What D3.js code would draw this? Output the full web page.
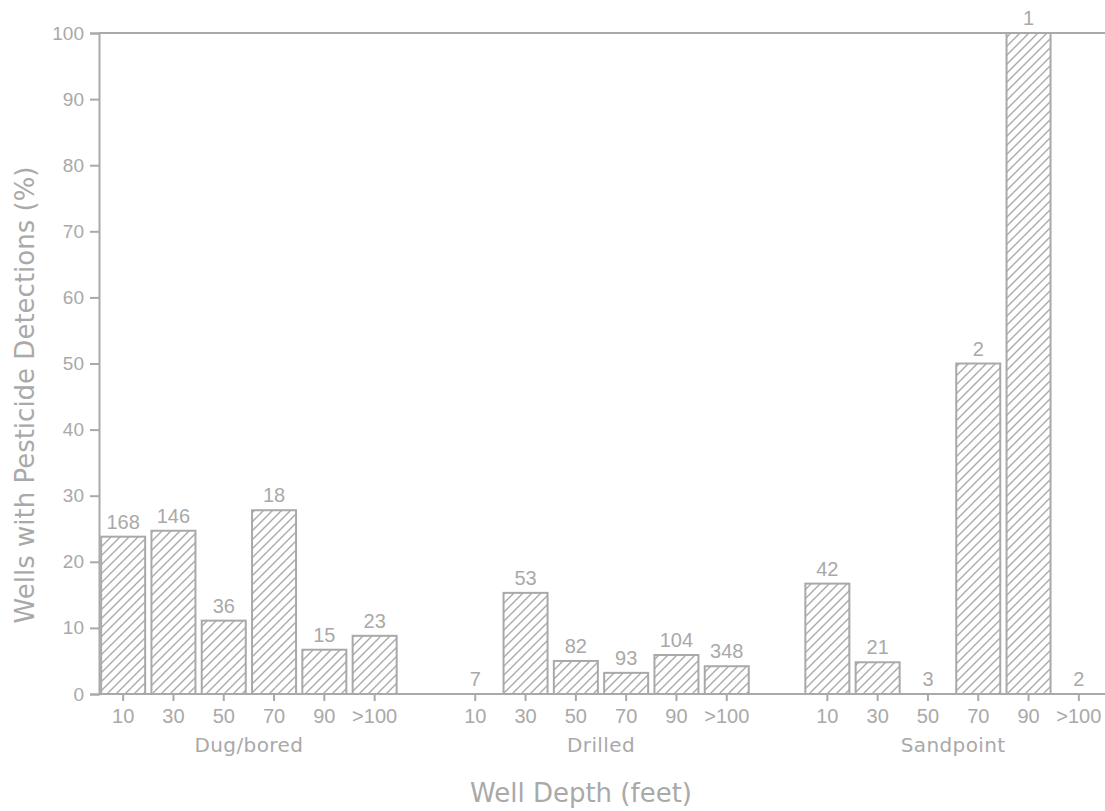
<!DOCTYPE html>
<html>
<head>
<meta charset="utf-8">
<script src="https://cdn.jsdelivr.net/npm/d3@7"></script>
<style>
  html, body { margin: 0; padding: 0; background: #fff; }
  svg { display: block; }
  text { font-family: "DejaVu Sans", sans-serif; fill: #a9a9a9; }
  .num { font-family: "Liberation Sans", Arial, sans-serif; }
</style>
</head>
<body>
<svg id="chart" width="1105" height="811"></svg>
<script>
// Well types and depth classes (feet)
const wellTypes = ["Dug/bored", "Drilled", "Sandpoint"];
const depthLabels = ["10", "30", "50", "70", "90", ">100"];

// Percent of wells with pesticide detections, by depth class
const dugBoredPct = [23.8, 24.7, 11.1, 27.8, 6.7, 8.8];
const drilledPct = [0, 15.3, 5.0, 3.2, 5.9, 4.2];
const sandpointPct = [16.7, 4.8, 0, 50, 100, 0];

// Number of wells sampled in each depth class
const dugBoredCount = [168, 146, 36, 18, 15, 23];
const drilledCount = [7, 53, 82, 93, 104, 348];
const sandpointCount = [42, 21, 3, 2, 1, 2];

const yTicks = [0, 10, 20, 30, 40, 50, 60, 70, 80, 90, 100];

const pctByType = [dugBoredPct, drilledPct, sandpointPct];
const countByType = [dugBoredCount, drilledCount, sandpointCount];

// One slot per bar, with an empty slot between well types
const slotsPerType = depthLabels.length + 1;
const nSlots = wellTypes.length * slotsPerType - 1;
const bars = [];
wellTypes.forEach((t, g) => {
  depthLabels.forEach((d, i) => {
    bars.push({ type: t, depth: d, slot: g * slotsPerType + i,
                pct: pctByType[g][i], n: countByType[g][i] });
  });
});

const color = "#a9a9a9";
const svg = d3.select("#chart");

const x = d3.scaleBand()
  .domain(d3.range(nSlots))
  .range([98, 1104])
  .paddingInner(0.125)
  .paddingOuter(0.0625);

const y = d3.scaleLinear().domain([0, 100]).range([694, 33]);

// Diagonal hatch fill
const defs = svg.append("defs");
const pat = defs.append("pattern")
  .attr("id", "hatch")
  .attr("patternUnits", "userSpaceOnUse")
  .attr("width", 9).attr("height", 9);
pat.append("path")
  .attr("d", "M-1,10 L10,-1 M-2,2 L2,-2 M7,11 L11,7")
  .attr("stroke", color).attr("stroke-width", 1.4).attr("fill", "none");

// Bars
svg.append("g").selectAll("rect")
  .data(bars.filter(b => b.pct > 0))
  .join("rect")
  .attr("x", b => x(b.slot))
  .attr("y", b => y(b.pct))
  .attr("width", x.bandwidth())
  .attr("height", b => y(0) - y(b.pct))
  .attr("fill", "url(#hatch)")
  .attr("stroke", color)
  .attr("stroke-width", 2);

// Frame lines: top and baseline
const xLeft = 99, xRight = 1105;
svg.append("line").attr("x1", xLeft).attr("x2", xRight)
  .attr("y1", y(100)).attr("y2", y(100))
  .attr("stroke", color).attr("stroke-width", 2);
svg.append("line").attr("x1", xLeft).attr("x2", xRight)
  .attr("y1", y(0)).attr("y2", y(0))
  .attr("stroke", color).attr("stroke-width", 2);

// Y axis
const yAxis = d3.axisLeft(y).tickValues(yTicks).tickSize(9).tickPadding(6)
  .tickFormat(d3.format("d"));
const yg = svg.append("g").attr("transform", `translate(${xLeft},0)`).call(yAxis);
yg.select(".domain").attr("stroke", color).attr("stroke-width", 2);
yg.selectAll(".tick line").attr("stroke", color).attr("stroke-width", 2);
yg.selectAll(".tick text")
  .attr("class", "num")
  .attr("fill", color).style("font-size", "19px")
  .style("font-family", "'Liberation Sans', Arial, sans-serif");

// X ticks and depth labels
const xg = svg.append("g");
xg.selectAll("line")
  .data(bars)
  .join("line")
  .attr("x1", b => x(b.slot) + x.bandwidth() / 2)
  .attr("x2", b => x(b.slot) + x.bandwidth() / 2)
  .attr("y1", y(0)).attr("y2", y(0) + 7)
  .attr("stroke", color).attr("stroke-width", 2);
xg.selectAll("text")
  .data(bars)
  .join("text")
  .attr("class", "num")
  .attr("x", b => x(b.slot) + x.bandwidth() / 2)
  .attr("y", 723)
  .attr("text-anchor", "middle")
  .style("font-size", "20px")
  .text(b => b.depth);

// Well type labels under each group
svg.append("g").selectAll("text")
  .data(wellTypes)
  .join("text")
  .attr("x", (t, g) => (x(g * slotsPerType) + x(g * slotsPerType + depthLabels.length - 1) + x.bandwidth()) / 2)
  .attr("y", 752)
  .attr("text-anchor", "middle")
  .style("font-size", "20px")
  .style("letter-spacing", "0.4px")
  .text(t => t);

// Well counts above bars
svg.append("g").selectAll("text")
  .data(bars)
  .join("text")
  .attr("class", "num")
  .attr("x", b => x(b.slot) + x.bandwidth() / 2)
  .attr("y", b => y(b.pct) - 8)
  .attr("text-anchor", "middle")
  .style("font-size", "20px")
  .text(b => b.n);

// Axis titles
svg.append("text")
  .attr("x", 581).attr("y", 802)
  .attr("text-anchor", "middle")
  .style("font-size", "26px")
  .text("Well Depth (feet)");

svg.append("text")
  .attr("transform", "translate(34,395) rotate(-90)")
  .attr("text-anchor", "middle")
  .style("font-size", "26px")
  .text("Wells with Pesticide Detections (%)");
</script>
</body>
</html>
